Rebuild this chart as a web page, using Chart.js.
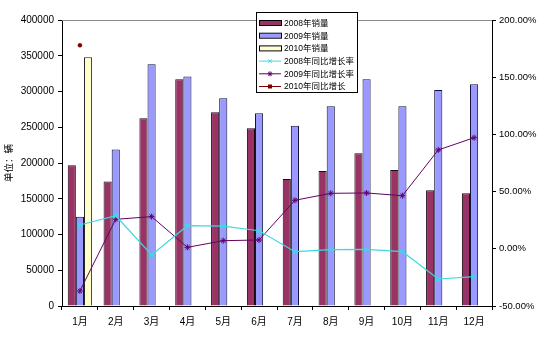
<!DOCTYPE html>
<html lang="zh">
<head>
  <meta charset="UTF-8">
  <title>月度销量</title>
  <script src="https://cdn.jsdelivr.net/npm/chart.js"></script>
  <style>
    html, body { margin: 0; padding: 0; background: #fff; }
    #wrap { position: relative; width: 547px; height: 341px; }
  </style>
</head>
<body>
  <div id="wrap"><canvas id="salesChart" width="547" height="341"></canvas></div>
  <script>
    const months = ['1月', '2月', '3月', '4月', '5月', '6月', '7月', '8月', '9月', '10月', '11月', '12月'];

    // 销量（辆）
    const sales2008 = [197000, 174000, 262500, 317000, 271000, 248500, 177600, 188800, 213500, 190200, 161800, 157600];
    const sales2009 = [125000, 219000, 338000, 321000, 290400, 269500, 252200, 279300, 317000, 279300, 302100, 310000];
    const sales2010 = [348000, null, null, null, null, null, null, null, null, null, null, null];

    // 同比增长（%）
    const growth2008 = [20.8, 28.9, -5.4, 20.2, 19.9, 15.8, -2.5, -0.8, -0.5, -2.5, -26.4, -24.4];
    const growth2009 = [-36.9, 25.8, 28.1, 1.3, 7.1, 7.7, 42.4, 48.5, 48.8, 46.4, 86.4, 97.1];
    const growth2010 = [177.9, null, null, null, null, null, null, null, null, null, null, null];

    const leftTicks = [0, 50000, 100000, 150000, 200000, 250000, 300000, 350000, 400000];
    const rightTicks = [-50, 0, 50, 100, 150, 200];

    const FONT = "'Liberation Sans', 'Noto Sans CJK SC', sans-serif";

    // gray top edge of the plot area
    const frameTop = {
      id: 'frameTop',
      beforeDatasetsDraw(chart) {
        const { ctx, chartArea: a } = chart;
        ctx.save();
        ctx.strokeStyle = '#8a8a8a';
        ctx.lineWidth = 1;
        ctx.beginPath();
        ctx.moveTo(a.left, a.top + 0.5);
        ctx.lineTo(a.right, a.top + 0.5);
        ctx.stroke();
        ctx.restore();
      }
    };

    // boxed legend sitting over the top of the plot
    const boxLegend = {
      id: 'boxLegend',
      afterDraw(chart) {
        const { ctx } = chart;
        const x = 256, y = 12, w = 101, h = 80, rowH = 12.7;
        ctx.save();
        ctx.fillStyle = '#fff';
        ctx.fillRect(x, y, w, h);
        ctx.strokeStyle = '#000';
        ctx.lineWidth = 1;
        ctx.strokeRect(x + 0.5, y + 0.5, w, h);
        ctx.font = '8.5px ' + FONT;
        ctx.textBaseline = 'middle';
        chart.data.datasets.forEach((ds, i) => {
          const cy = y + 11 + i * rowH;
          const sx = x + 3, sw = 22;
          if (ds.type === 'line') {
            ctx.strokeStyle = ds.borderColor;
            ctx.beginPath();
            ctx.moveTo(sx, cy);
            ctx.lineTo(sx + sw, cy);
            ctx.stroke();
            if (ds.legendMarker === 'rect') {
              ctx.fillStyle = ds.pointBackgroundColor;
              ctx.fillRect(sx + sw / 2 - 2, cy - 2, 4, 4);
            } else {
              Chart.helpers.drawPoint(ctx, {
                pointStyle: ds.legendMarker,
                radius: 2.5,
                borderWidth: 1
              }, sx + sw / 2, cy);
            }
          } else {
            ctx.fillStyle = ds.backgroundColor;
            ctx.fillRect(sx, cy - 2, sw, 4);
            ctx.strokeStyle = '#000';
            ctx.strokeRect(sx + 0.5, cy - 2.5, sw, 5);
          }
          ctx.fillStyle = '#000';
          ctx.fillText(ds.label, sx + sw + 3, cy + 0.5);
        });
        ctx.restore();
      }
    };

    new Chart(document.getElementById('salesChart'), {
      data: {
        labels: months,
        datasets: [
          { type: 'bar', label: '2008年销量', data: sales2008, yAxisID: 'y', order: 2,
            backgroundColor: '#993366', borderColor: '#1a0a12', borderWidth: 1 },
          { type: 'bar', label: '2009年销量', data: sales2009, yAxisID: 'y', order: 2,
            backgroundColor: '#9999ff', borderColor: '#10103a', borderWidth: 1 },
          { type: 'bar', label: '2010年销量', data: sales2010, yAxisID: 'y', order: 2,
            backgroundColor: '#ffffcc', borderColor: '#222', borderWidth: 1 },
          { type: 'line', label: '2008年同比增长率', data: growth2008, yAxisID: 'y1', order: 1,
            borderColor: '#40d8e0', borderWidth: 1.2, pointStyle: 'crossRot', pointRadius: 3,
            pointBorderColor: '#40d8e0', pointBorderWidth: 1.5, legendMarker: 'crossRot' },
          { type: 'line', label: '2009年同比增长率', data: growth2009, yAxisID: 'y1', order: 1,
            borderColor: '#660066', borderWidth: 1, pointStyle: 'star', pointRadius: 3,
            pointBorderColor: '#660066', pointBorderWidth: 1, legendMarker: 'star' },
          { type: 'line', label: '2010年同比增长', data: growth2010, yAxisID: 'y1', order: 1,
            borderColor: '#800000', borderWidth: 1, pointStyle: 'circle', pointRadius: 2,
            pointBorderWidth: 0.5,
            pointBackgroundColor: '#800000', pointBorderColor: '#800000', legendMarker: 'rect' }
        ]
      },
      options: {
        responsive: false,
        animation: false,
        layout: { padding: { top: 20, left: 0, right: 0, bottom: 0 } },
        datasets: { bar: { categoryPercentage: 0.68, barPercentage: 1 } },
        plugins: { legend: { display: false }, tooltip: { enabled: false } },
        scales: {
          x: {
            offset: true,
            grid: { drawOnChartArea: false, offset: true, tickLength: 4, color: '#000' },
            border: { color: '#000' },
            ticks: { color: '#000', font: { family: FONT, size: 10 }, maxRotation: 0, padding: 6 },
            afterFit(s) { s.height = 35; }
          },
          y: {
            position: 'left',
            min: 0, max: 400000,
            afterBuildTicks(s) { s.ticks = leftTicks.map(v => ({ value: v })); },
            grid: { drawOnChartArea: false, tickLength: 4, color: '#000' },
            border: { color: '#000' },
            ticks: { color: '#000', font: { family: FONT, size: 10 }, padding: 4,
                     callback: v => String(v) },
            title: { display: true, text: '单位：辆', color: '#000',
                     font: { family: FONT, size: 9.5 }, padding: { top: 4, bottom: 0 } },
            afterFit(s) { s.width = 62; }
          },
          y1: {
            position: 'right',
            min: -50, max: 200,
            afterBuildTicks(s) { s.ticks = rightTicks.map(v => ({ value: v })); },
            grid: { drawOnChartArea: false, tickLength: 4, color: '#000' },
            border: { color: '#000' },
            ticks: { color: '#000', font: { family: FONT, size: 9.5 }, padding: 3,
                     callback: v => v.toFixed(2) + '%' },
            afterFit(s) { s.width = 55; }
          }
        }
      },
      plugins: [frameTop, boxLegend]
    });
  </script>
</body>
</html>
